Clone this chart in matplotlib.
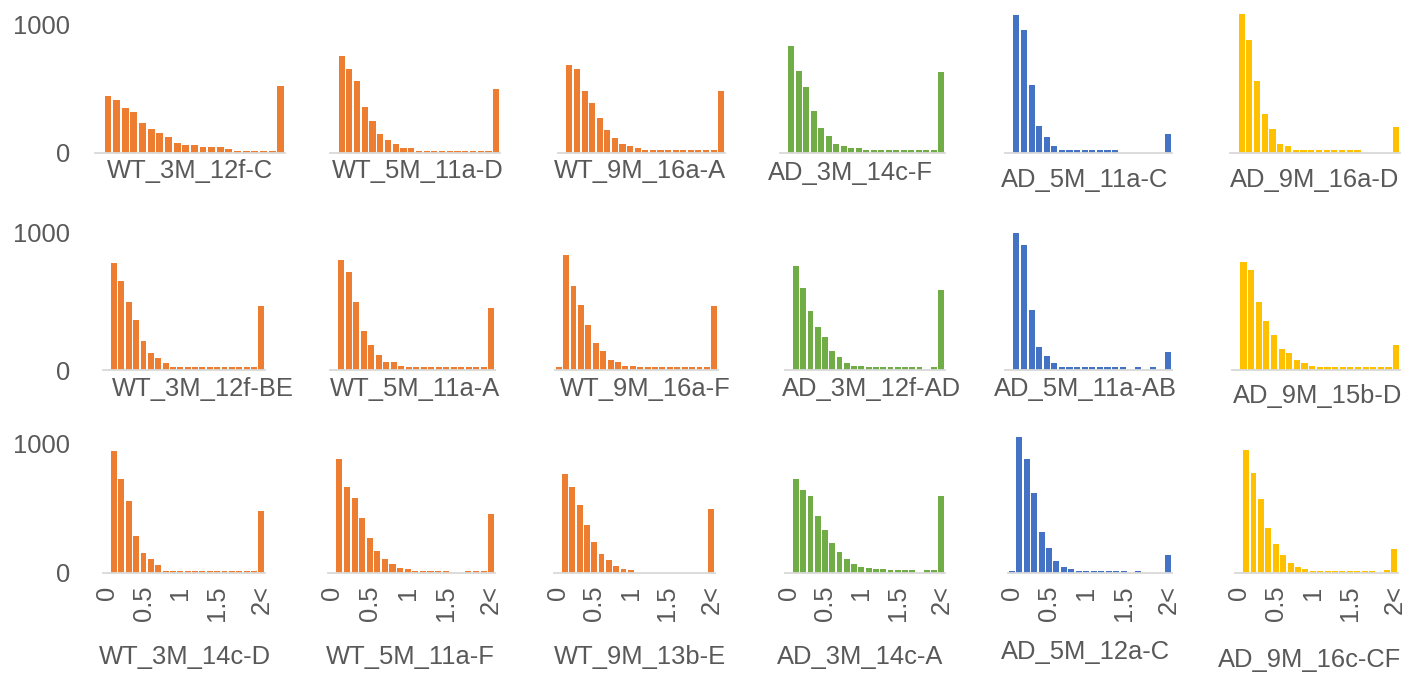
import numpy as np
import matplotlib.pyplot as plt

plt.rcParams['font.family'] = ['Liberation Sans', 'DejaVu Sans']

#-------------------------------------------------------------------
# Data: counts per bin (0, 0.1, ..., 2.0, 2<)
categories = ['0', '0.1', '0.2', '0.3', '0.4', '0.5', '0.6', '0.7', '0.8', '0.9', '1',
              '1.1', '1.2', '1.3', '1.4', '1.5', '1.6', '1.7', '1.8', '1.9', '2', '2<']
tick_labels = ['0', '0.5', '1', '1.5', '2<']
tick_cats = ['0', '0.5', '1', '1.5', '2<']

# row 1
wt_3m_12f_c = [0, 445, 414, 349, 318, 237, 190, 159, 128, 81, 62, 62, 49, 49, 49, 31, 16, 16, 16, 16, 16, 526]
wt_5m_11a_d = [0, 755, 659, 566, 357, 248, 152, 102, 70, 39, 39, 19, 19, 19, 19, 19, 19, 19, 19, 19, 19, 500]
wt_9m_16a_a = [0, 690, 659, 482, 388, 277, 183, 117, 70, 52, 39, 21, 21, 21, 21, 21, 21, 21, 21, 21, 21, 482]
ad_3m_14c_f = [0, 834, 644, 516, 326, 195, 136, 70, 52, 39, 39, 21, 21, 21, 21, 21, 21, 21, 21, 21, 21, 630]
ad_5m_11a_c = [0, 1080, 964, 534, 214, 123, 58, 21, 21, 21, 21, 21, 21, 21, 21, 0, 0, 0, 0, 0, 0, 152]
ad_9m_16a_d = [0, 1086, 886, 566, 308, 188, 70, 52, 21, 21, 21, 21, 21, 21, 21, 21, 21, 0, 0, 0, 0, 201]

# row 2
wt_3m_12f_be = [0, 783, 650, 499, 365, 214, 127, 85, 49, 20, 20, 20, 20, 20, 20, 20, 20, 20, 20, 20, 20, 469]
wt_5m_11a_a = [0, 805, 718, 493, 287, 182, 109, 61, 61, 31, 19, 19, 19, 19, 19, 19, 19, 19, 19, 19, 19, 450]
wt_9m_16a_f = [19, 839, 610, 477, 331, 197, 136, 75, 61, 31, 31, 19, 19, 19, 19, 19, 19, 19, 19, 19, 19, 464]
ad_3m_12f_ad = [0, 761, 599, 433, 316, 238, 136, 92, 48, 31, 31, 19, 19, 19, 19, 19, 19, 19, 19, 0, 19, 584]
ad_5m_11a_ab = [0, 1000, 912, 438, 165, 104, 48, 19, 19, 19, 19, 19, 19, 19, 19, 19, 0, 19, 0, 19, 0, 134]
ad_9m_15b_d = [0, 790, 728, 493, 360, 255, 153, 121, 75, 48, 31, 19, 19, 19, 19, 19, 19, 19, 19, 19, 19, 182]

# row 3
wt_3m_14c_d = [0, 941, 723, 551, 282, 154, 110, 64, 18, 18, 18, 18, 18, 18, 18, 18, 18, 18, 18, 18, 18, 474]
wt_5m_11a_f = [0, 880, 660, 580, 420, 270, 170, 110, 70, 40, 30, 18, 18, 18, 18, 18, 0, 0, 18, 18, 18, 455]
wt_9m_13b_e = [0, 759, 662, 521, 367, 238, 144, 98, 52, 33, 21, 0, 0, 0, 0, 0, 0, 0, 0, 0, 0, 490]
ad_3m_14c_a = [0, 720, 640, 590, 440, 330, 230, 160, 110, 70, 50, 40, 30, 30, 25, 25, 25, 25, 0, 25, 25, 590]
ad_5m_12a_c = [12, 1050, 877, 615, 312, 192, 95, 46, 31, 15, 15, 15, 15, 15, 15, 15, 0, 15, 0, 0, 0, 141]
ad_9m_16c_cf = [0, 943, 769, 569, 346, 223, 141, 77, 46, 31, 15, 15, 15, 15, 15, 15, 15, 15, 15, 0, 20, 187]

names = [['WT_3M_12f-C', 'WT_5M_11a-D', 'WT_9M_16a-A', 'AD_3M_14c-F', 'AD_5M_11a-C', 'AD_9M_16a-D'],
         ['WT_3M_12f-BE', 'WT_5M_11a-A', 'WT_9M_16a-F', 'AD_3M_12f-AD', 'AD_5M_11a-AB', 'AD_9M_15b-D'],
         ['WT_3M_14c-D', 'WT_5M_11a-F', 'WT_9M_13b-E', 'AD_3M_14c-A', 'AD_5M_12a-C', 'AD_9M_16c-CF']]
counts = [[wt_3m_12f_c, wt_5m_11a_d, wt_9m_16a_a, ad_3m_14c_f, ad_5m_11a_c, ad_9m_16a_d],
          [wt_3m_12f_be, wt_5m_11a_a, wt_9m_16a_f, ad_3m_12f_ad, ad_5m_11a_ab, ad_9m_15b_d],
          [wt_3m_14c_d, wt_5m_11a_f, wt_9m_13b_e, ad_3m_14c_a, ad_5m_12a_c, ad_9m_16c_cf]]

#-------------------------------------------------------------------
# Layout (pixels)
W, H = 1418, 676
col_colors = ['#ED7D31', '#ED7D31', '#ED7D31', '#70AD47', '#4472C4', '#FFC000']
text_col = '#595959'
fs = 18.4
ymax = 1100

row_base = [153, 370, 573]
row_scale = [0.128, 0.137, 0.130]     # px per count
x_ext = [[(95, 285), (330, 500), (558, 725), (780, 945), (1005, 1172), (1230, 1400)],
         [(103, 265), (330, 495), (555, 718), (785, 945), (1005, 1172), (1232, 1400)],
         [(103, 265), (328, 495), (554, 715), (785, 945), (1008, 1172), (1235, 1398)]]
title_pos = [[(190, 171), (418, 171), (640, 171), (850, 173), (1085, 180), (1315, 180)],
             [(203, 389), (415, 389), (645, 389), (872, 389), (1085, 389), (1318, 396)],
             [(185, 657), (410, 657), (640, 657), (860, 657), (1085, 652), (1310, 660)]]

fig = plt.figure(figsize=(W / 100, H / 100), dpi=100)

for r in range(3):
    h = ymax * row_scale[r]
    for c in range(6):
        x0, x1 = x_ext[r][c]
        ax = fig.add_axes([x0 / W, 1 - row_base[r] / H, (x1 - x0) / W, h / H])
        ax.bar(categories, counts[r][c], width=0.8, color=col_colors[c])
        ax.set_xlim(-0.5, len(categories) - 0.5)
        ax.set_ylim(0, ymax)
        for s in ['top', 'right', 'left']:
            ax.spines[s].set_visible(False)
        ax.spines['bottom'].set_color('#D9D9D9')
        ax.spines['bottom'].set_linewidth(1.3)
        ax.tick_params(length=0, labelsize=fs, labelcolor=text_col)
        ax.patch.set_alpha(0)

        if c == 0:
            ax.set_yticks([0, 1000], ['0', '1000'])
            ax.tick_params(axis='y', pad=(x0 - 70) * 0.72)
        else:
            ax.set_yticks([])

        if r == 2:
            ax.set_xticks(tick_cats, tick_labels, rotation=90)
            ax.tick_params(axis='x', pad=9)
        else:
            ax.set_xticks([])

        tx, ty = title_pos[r][c]
        fig.text(tx / W, 1 - ty / H, names[r][c], ha='center', va='center',
                 fontsize=fs, color=text_col)

plt.savefig('out.png', dpi=100)
